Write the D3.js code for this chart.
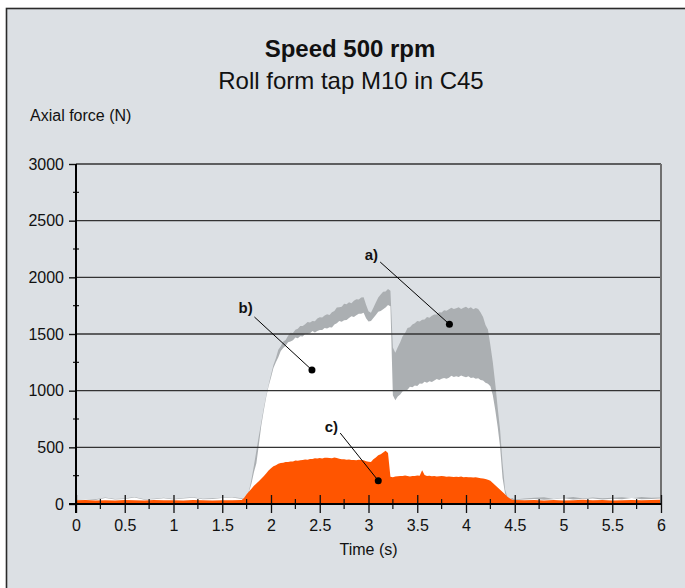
<!DOCTYPE html>
<html>
<head>
<meta charset="utf-8">
<script src="https://cdn.jsdelivr.net/npm/d3@7"></script>
<style>
  body { margin: 0; background: #fff; }
  text { font-family: "Liberation Sans", Arial, sans-serif; fill: #111; }
</style>
</head>
<body>
<div id="chart-area"></div>
<script>
/* Axial force vs time, roll form tap */

// sampling times (s)
var time = [
    0, 0.1, 0.2, 0.3, 0.4, 0.5, 0.6, 0.7, 0.8, 0.9, 1, 1.1, 1.2, 1.3, 1.4, 1.5, 1.6, 1.7,
    1.725, 1.75, 1.775, 1.8, 1.825, 1.85, 1.875, 1.9, 1.925, 1.95, 1.975,
    2, 2.025, 2.05, 2.075, 2.1, 2.125, 2.15, 2.175, 2.2, 2.225,
    2.25, 2.275, 2.3, 2.325, 2.35, 2.375, 2.4, 2.425, 2.45, 2.475,
    2.5, 2.525, 2.55, 2.575, 2.6, 2.625, 2.65, 2.675, 2.7, 2.725,
    2.75, 2.775, 2.8, 2.825, 2.85, 2.875, 2.9, 2.925, 2.95, 2.975,
    3, 3.025, 3.05, 3.075, 3.1, 3.125, 3.15, 3.175, 3.2, 3.225,
    3.25, 3.275, 3.3, 3.325, 3.35, 3.375, 3.4, 3.425, 3.45, 3.475,
    3.5, 3.525, 3.55, 3.575, 3.6, 3.625, 3.65, 3.675, 3.7, 3.725,
    3.75, 3.775, 3.8, 3.825, 3.85, 3.875, 3.9, 3.925, 3.95, 3.975,
    4, 4.025, 4.05, 4.075, 4.1, 4.125, 4.15, 4.175, 4.2, 4.225,
    4.25, 4.275, 4.3, 4.325, 4.35, 4.375, 4.4, 4.425, 4.45, 4.475, 4.5,
    4.6, 4.7, 4.8, 4.9, 5, 5.1, 5.2, 5.3, 5.4, 5.5, 5.6, 5.7, 5.8, 5.9, 6
];

// a) grey curve (N)
var forceA = [
    40, 45, 42, 58, 44, 48, 62, 42, 47, 55, 45, 52, 60, 46, 50, 56, 62, 50,
    42, 60, 120, 220, 340, 470, 600, 720, 840, 950, 1050,
    1140, 1226, 1286, 1360, 1393, 1433, 1447, 1485, 1512, 1509,
    1537, 1547, 1570, 1570, 1585, 1606, 1601, 1615, 1613, 1636,
    1647, 1646, 1664, 1675, 1667, 1691, 1704, 1733, 1735, 1741,
    1767, 1763, 1780, 1772, 1793, 1807, 1805, 1822, 1825, 1757,
    1700, 1688, 1732, 1778, 1822, 1848, 1872, 1874, 1898, 1882,
    1380, 1335, 1384, 1427, 1481, 1508, 1553, 1560, 1583, 1595,
    1614, 1611, 1626, 1628, 1651, 1644, 1662, 1673, 1672, 1692,
    1689, 1710, 1705, 1718, 1732, 1721, 1728, 1736, 1721, 1732,
    1741, 1725, 1735, 1719, 1729, 1720, 1690, 1650, 1580, 1540,
    1400, 1250, 1060, 850, 650, 360, 130, 60, 45, 52, 40,
    48, 55, 60, 45, 52, 62, 48, 58, 50, 55, 60, 50, 62, 55, 58
];

// b) white curve (N)
var forceB = [
    38, 42, 36, 52, 40, 44, 58, 38, 42, 50, 40, 48, 55, 42, 45, 52, 58, 45,
    40, 60, 110, 180, 280, 360, 520, 690, 820, 940, 1040,
    1117, 1200, 1250, 1294, 1349, 1377, 1396, 1427, 1433, 1445,
    1470, 1463, 1481, 1477, 1499, 1501, 1507, 1527, 1514, 1527,
    1535, 1536, 1553, 1548, 1560, 1558, 1583, 1595, 1614, 1609,
    1622, 1623, 1641, 1656, 1651, 1665, 1678, 1679, 1688, 1638,
    1610, 1615, 1642, 1668, 1696, 1704, 1718, 1734, 1756, 1745,
    960, 915, 948, 967, 995, 1000, 1008, 1034, 1031, 1046,
    1042, 1063, 1060, 1078, 1069, 1083, 1076, 1090, 1103, 1094,
    1105, 1112, 1105, 1114, 1132, 1120, 1128, 1120, 1134, 1124,
    1119, 1127, 1112, 1116, 1106, 1109, 1095, 1090, 1070, 1062,
    1040, 960, 830, 680, 500, 230, 95, 50, 42, 38, 35,
    40, 45, 38, 42, 50, 39, 44, 48, 40, 46, 43, 52, 41, 45, 48
];

// c) orange curve (N)
var forceC = [
    32, 35, 30, 34, 31, 36, 33, 30, 35, 32, 34, 31, 35, 33, 30, 34, 32, 36,
    55, 85, 110, 135, 160, 180, 200, 222, 245, 270, 295,
    315, 332, 343, 356, 362, 364, 370, 371, 376, 374,
    383, 382, 386, 389, 392, 391, 398, 396, 403, 401,
    406, 402, 409, 407, 405, 403, 410, 406, 399, 395,
    394, 391, 393, 389, 388, 386, 390, 388, 387, 378,
    372, 370, 395, 410, 430, 440, 455, 470, 450, 240,
    236, 242, 244, 247, 248, 252, 246, 243, 248, 246,
    252, 250, 298, 256, 247, 249, 245, 247, 242, 244,
    248, 245, 240, 243, 241, 238, 241, 239, 242, 237,
    239, 236, 237, 234, 235, 231, 228, 225, 220, 215,
    205, 185, 165, 145, 125, 105, 85, 65, 48, 38, 35,
    33, 36, 31, 35, 30, 34, 37, 32, 35, 31, 34, 36, 33, 35, 37
];

var xTicks = [0, 0.5, 1, 1.5, 2, 2.5, 3, 3.5, 4, 4.5, 5, 5.5, 6];
var yTicks = [0, 500, 1000, 1500, 2000, 2500, 3000];

// label position, leader line start, dot position
var notes = [
    { text: "a)", lx: 3.03, ly: 2153, sx: 3.12, sy: 2135, dx: 3.83, dy: 1586 },
    { text: "b)", lx: 1.74, ly: 1685, sx: 1.83, sy: 1650, dx: 2.42, dy: 1182 },
    { text: "c)", lx: 2.62, ly: 635, sx: 2.71, sy: 626, dx: 3.10, dy: 206 }
];

var W = 685, H = 588;
var margin = { left: 76, right: 24, top: 164, bottom: 84 };

var svg = d3.select("#chart-area")
    .append("svg")
    .attr("width", W)
    .attr("height", H);

// panel
svg.append("rect")
    .attr("x", 6.5).attr("y", 8.5)
    .attr("width", W + 20).attr("height", H + 20)
    .attr("fill", "#dce0e4")
    .attr("stroke", "#2a2a2a")
    .attr("stroke-width", 1.6);

var x = d3.scaleLinear().domain([0, 6]).range([margin.left, W - margin.right]);
var y = d3.scaleLinear().domain([0, 3000]).range([H - margin.bottom, margin.top]);

function areaOf(values) {
    return d3.area()
        .x(function(d, i) { return x(time[i]); })
        .y0(y(0))
        .y1(function(d) { return y(d); })(values);
}

svg.append("path").attr("d", areaOf(forceA)).attr("fill", "#abafb2");
svg.append("path").attr("d", areaOf(forceB)).attr("fill", "#ffffff");
svg.append("path").attr("d", areaOf(forceC)).attr("fill", "#ff5500");

// grid lines
svg.append("g")
    .selectAll("line")
    .data(yTicks.slice(1))
    .enter()
    .append("line")
    .attr("x1", x(0)).attr("x2", x(6))
    .attr("y1", function(d) { return y(d); })
    .attr("y2", function(d) { return y(d); })
    .attr("stroke", "#333")
    .attr("stroke-width", 1.4);

// right border
svg.append("line")
    .attr("x1", x(6)).attr("x2", x(6))
    .attr("y1", y(3000)).attr("y2", y(0))
    .attr("stroke", "#707070")
    .attr("stroke-width", 2);

// y axis
var yAxis = d3.axisLeft(y)
    .tickValues(yTicks)
    .tickSize(7)
    .tickPadding(5)
    .tickFormat(d3.format("d"));

var gy = svg.append("g")
    .attr("transform", "translate(" + x(0) + ",0)")
    .call(yAxis);
gy.select(".domain").remove();
gy.selectAll(".tick line").attr("stroke", "#111").attr("stroke-width", 1.4);
gy.selectAll(".tick text")
    .attr("font-size", 16)
    .attr("font-family", "Liberation Sans, Arial, sans-serif")
    .attr("fill", "#111");

// y minor ticks
svg.append("g")
    .selectAll("line")
    .data([250, 750, 1250, 1750, 2250, 2750])
    .enter()
    .append("line")
    .attr("x1", x(0) - 3).attr("x2", x(0) + 3)
    .attr("y1", function(d) { return y(d); })
    .attr("y2", function(d) { return y(d); })
    .attr("stroke", "#111")
    .attr("stroke-width", 1.2);

// x axis
var xAxis = d3.axisBottom(x)
    .tickValues(xTicks)
    .tickSize(9)
    .tickPadding(7)
    .tickFormat(function(d) { return String(d); });

var gx = svg.append("g")
    .attr("transform", "translate(0," + y(0) + ")")
    .call(xAxis);
gx.select(".domain").remove();
gx.selectAll(".tick line")
    .attr("y1", -9)
    .attr("stroke", "#111")
    .attr("stroke-width", 1.3);
gx.selectAll(".tick text")
    .attr("font-size", 16)
    .attr("font-family", "Liberation Sans, Arial, sans-serif")
    .attr("fill", "#111");

// x minor ticks
svg.append("g")
    .selectAll("line")
    .data([0.25, 0.75, 1.25, 1.75, 2.25, 2.75, 3.25, 3.75, 4.25, 4.75, 5.25, 5.75])
    .enter()
    .append("line")
    .attr("x1", function(d) { return x(d); })
    .attr("x2", function(d) { return x(d); })
    .attr("y1", y(0) - 5).attr("y2", y(0) + 5)
    .attr("stroke", "#111")
    .attr("stroke-width", 1.2);

// axis lines
svg.append("line")
    .attr("x1", x(0) - 7).attr("x2", x(6))
    .attr("y1", y(0)).attr("y2", y(0))
    .attr("stroke", "#000").attr("stroke-width", 2);
svg.append("line")
    .attr("x1", x(0)).attr("x2", x(0))
    .attr("y1", y(3000)).attr("y2", y(0) + 9)
    .attr("stroke", "#000").attr("stroke-width", 2);

// annotations
var ann = svg.append("g");
notes.forEach(function(n) {
    ann.append("line")
        .attr("x1", x(n.sx)).attr("y1", y(n.sy))
        .attr("x2", x(n.dx)).attr("y2", y(n.dy))
        .attr("stroke", "#000").attr("stroke-width", 1);
    ann.append("circle")
        .attr("cx", x(n.dx)).attr("cy", y(n.dy))
        .attr("r", 3.5).attr("fill", "#000");
    ann.append("text")
        .attr("x", x(n.lx)).attr("y", y(n.ly))
        .attr("text-anchor", "middle")
        .attr("font-size", 15)
        .attr("font-weight", "bold")
        .text(n.text);
});

// titles
svg.append("text")
    .attr("x", 350).attr("y", 57)
    .attr("text-anchor", "middle")
    .attr("font-size", 24)
    .attr("font-weight", "bold")
    .text("Speed 500 rpm");

svg.append("text")
    .attr("x", 351).attr("y", 89)
    .attr("text-anchor", "middle")
    .attr("font-size", 24)
    .text("Roll form tap M10 in C45");

svg.append("text")
    .attr("x", 30).attr("y", 121)
    .attr("font-size", 16)
    .text("Axial force (N)");

svg.append("text")
    .attr("x", x(3)).attr("y", 555)
    .attr("text-anchor", "middle")
    .attr("font-size", 16)
    .text("Time (s)");
</script>
</body>
</html>
